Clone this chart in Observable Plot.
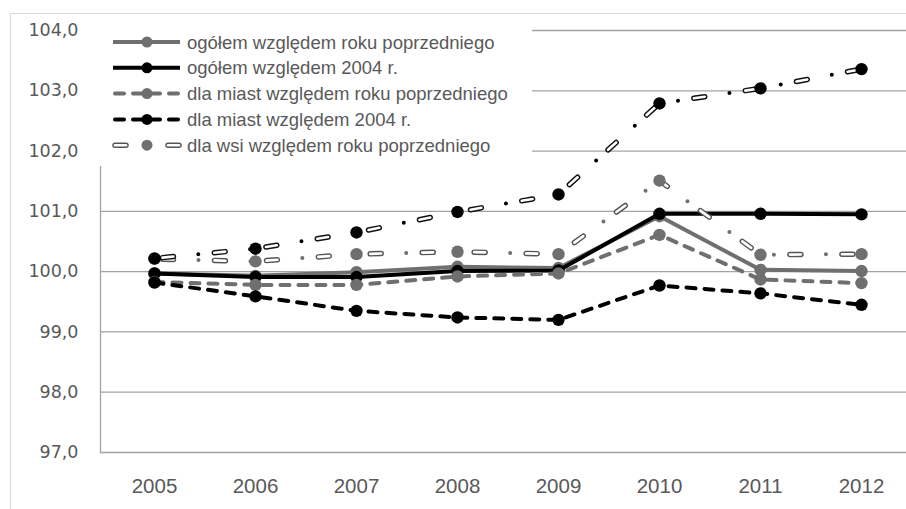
<!DOCTYPE html>
<html>
<head>
<meta charset="utf-8">
<script src="https://cdn.jsdelivr.net/npm/d3@7"></script>
<script src="https://cdn.jsdelivr.net/npm/@observablehq/plot@0.6"></script>
<style>
  html, body { margin: 0; padding: 0; background: #fff; overflow: hidden; }
  #wrap { position: relative; width: 906px; height: 509px; }
  #border { position: absolute; left: 10px; top: 13px; right: -5px; bottom: -5px; border: 1px solid #d9d9d9; }
  #chart { position: absolute; left: 0; top: 0; }
  #legend { position: absolute; left: 92px; top: 16px; width: 440px; height: 150px; background: #fff; }
</style>
</head>
<body>
<div id="wrap">
  <div id="border"></div>
  <div id="chart"></div>
  <div id="legend"></div>
</div>
<script>
// ---- data ----
const years = [2005, 2006, 2007, 2008, 2009, 2010, 2011, 2012];
const yTicks = [97, 98, 99, 100, 101, 102, 103, 104];
const seriesNames = [
  "ogółem względem roku poprzedniego",
  "ogółem względem 2004 r.",
  "dla miast względem roku poprzedniego",
  "dla miast względem 2004 r.",
  "dla wsi względem roku poprzedniego",
  "dla wsi względem 2004 r."
];
const ogolemRP   = [99.97, 99.93, 99.99, 100.08, 100.06, 100.92, 100.03, 100.01];
const ogolem2004 = [99.97, 99.91, 99.91, 100.01, 100.02, 100.96, 100.96, 100.95];
const miastRP    = [99.83, 99.78, 99.78, 99.92, 99.97, 100.61, 99.87, 99.81];
const miast2004  = [99.82, 99.59, 99.35, 99.24, 99.20, 99.77, 99.64, 99.45];
const wsiRP      = [100.21, 100.17, 100.29, 100.33, 100.29, 101.51, 100.28, 100.29];
const wsi2004    = [100.22, 100.38, 100.65, 100.99, 101.28, 102.79, 103.04, 103.36];
const seriesValues = [ogolemRP, ogolem2004, miastRP, miast2004, wsiRP, wsi2004];

// ---- styles ----
const GRAY = "#6f6f6f", BLACK = "#000000";
const styles = [
  {kind: "solid", color: GRAY},
  {kind: "solid", color: BLACK},
  {kind: "dash", color: GRAY},
  {kind: "dash", color: BLACK},
  {kind: "dashdot", color: GRAY, outline: "#555"},
  {kind: "dashdot", color: BLACK, outline: "#111"}
];

const rows = [];
seriesNames.forEach((s, i) => years.forEach((yr, j) => rows.push({year: yr, value: seriesValues[i][j], series: s})));

const marks = [
  Plot.ruleY(yTicks, {stroke: "#a3a3a3", strokeWidth: 1.3}),
  Plot.frame({anchor: "left", stroke: "#a3a3a3", strokeWidth: 1.3}),
  Plot.axisY({ticks: yTicks, tickSize: 0, tickPadding: 22, label: null,
    tickFormat: d => d.toFixed(1).replace(".", ","),
    fontFamily: "DejaVu Sans", fontSize: 17.5, fill: "#595959"}),
  Plot.axisX({tickSize: 0, tickPadding: 26, label: null, tickFormat: d => String(d),
    fontFamily: "Liberation Sans, Arial, sans-serif", fontSize: 20.5, fill: "#595959"})
];

seriesNames.forEach((s, i) => {
  const st = styles[i];
  const data = rows.filter(r => r.series === s);
  if (st.kind === "solid") {
    marks.push(Plot.line(data, {x: "year", y: "value", stroke: st.color, strokeWidth: 4}));
  } else if (st.kind === "dash") {
    marks.push(Plot.line(data, {x: "year", y: "value", stroke: st.color, strokeWidth: 4,
      strokeDasharray: "9 9", strokeLinecap: "round"}));
  } else {
    marks.push(Plot.line(data, {x: "year", y: "value", stroke: st.outline, strokeWidth: 5.5,
      strokeDasharray: "11 41", strokeLinecap: "round", strokeDashoffset: -8}));
    marks.push(Plot.line(data, {x: "year", y: "value", stroke: "#fff", strokeWidth: 2.6,
      strokeDasharray: "11 41", strokeLinecap: "round", strokeDashoffset: -8}));
    marks.push(Plot.line(data, {x: "year", y: "value", stroke: st.color, strokeWidth: 4,
      strokeDasharray: "0 52", strokeLinecap: "round", strokeDashoffset: 8}));
  }
  marks.push(Plot.dot(data, {x: "year", y: "value", r: 6.2, fill: st.color, stroke: "none"}));
});

const chart = Plot.plot({
  width: 906, height: 509,
  marginLeft: 100, marginRight: 0, marginTop: 30, marginBottom: 57,
  x: {type: "point", domain: years, range: [151, 864], padding: 0, axis: null},
  y: {domain: [97, 104], axis: null},
  style: {background: "transparent"},
  marks
});
document.getElementById("chart").appendChild(chart);

// ---- legend ----
const ns = "http://www.w3.org/2000/svg";
const lsvg = document.createElementNS(ns, "svg");
lsvg.setAttribute("width", 440); lsvg.setAttribute("height", 150);
function el(tag, attrs, parent) {
  const e = document.createElementNS(ns, tag);
  for (const k in attrs) e.setAttribute(k, attrs[k]);
  (parent || lsvg).appendChild(e);
  return e;
}
seriesNames.slice(0, 5).forEach((s, i) => {
  const st = styles[i];
  const cy = 26 + i * 25.8;
  if (st.kind === "solid") {
    el("line", {x1: 21, x2: 88, y1: cy, y2: cy, stroke: st.color, "stroke-width": 4});
  } else if (st.kind === "dash") {
    el("line", {x1: 21, x2: 88, y1: cy, y2: cy, stroke: st.color, "stroke-width": 4,
      "stroke-dasharray": "9 9", "stroke-linecap": "round", "stroke-dashoffset": -2});
  } else {
    [[23, 34], [76, 87]].forEach(([a, b]) => {
      el("line", {x1: a, x2: b, y1: cy, y2: cy, stroke: st.outline, "stroke-width": 5.5, "stroke-linecap": "round"});
      el("line", {x1: a, x2: b, y1: cy, y2: cy, stroke: "#fff", "stroke-width": 2.6, "stroke-linecap": "round"});
    });
  }
  el("circle", {cx: 55, cy: cy, r: 5.5, fill: st.color});
  const t = el("text", {x: 95, y: cy, "dominant-baseline": "central", fill: "#595959",
    "font-family": "Liberation Sans, Arial, sans-serif", "font-size": 18.5});
  t.textContent = s;
});
document.getElementById("legend").appendChild(lsvg);
</script>
</body>
</html>
